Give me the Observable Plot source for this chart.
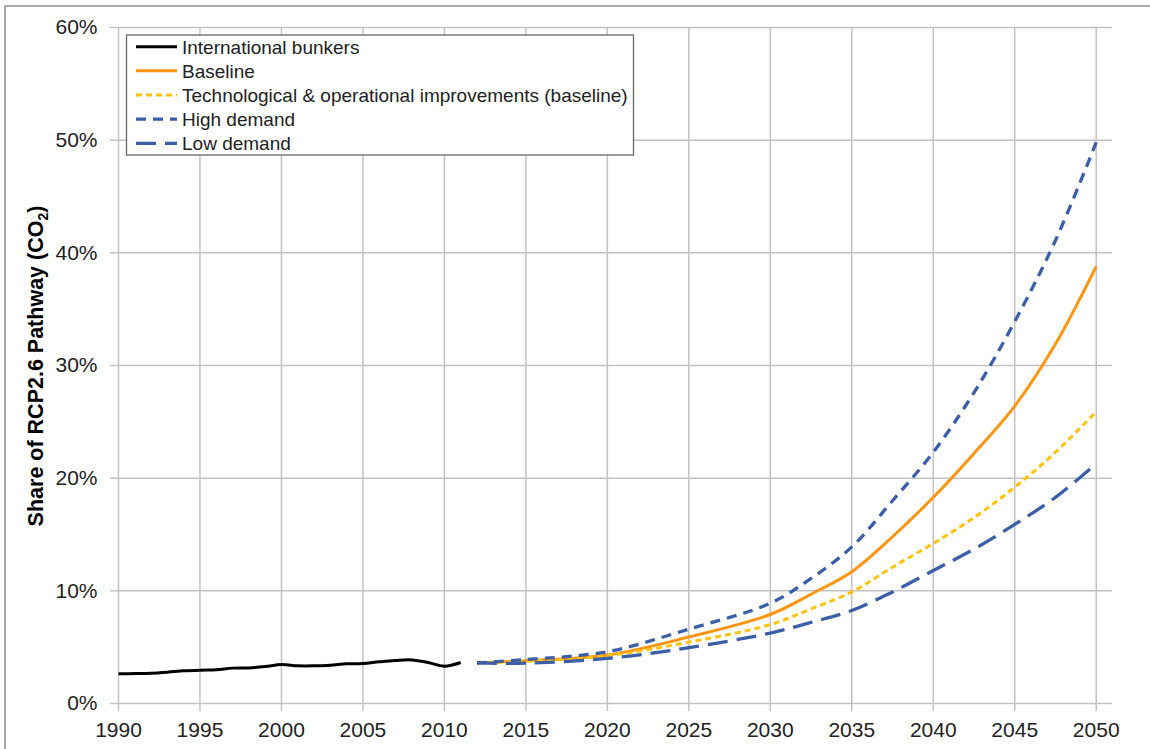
<!DOCTYPE html>
<html><head><meta charset="utf-8">
<script src="https://cdn.jsdelivr.net/npm/d3@7"></script>
<script src="https://cdn.jsdelivr.net/npm/@observablehq/plot@0.6"></script>
<style>
body{margin:0;background:#fff;font-family:"Liberation Sans",Arial,sans-serif;}
#chart{position:relative;width:1150px;height:749px;}
</style>
</head><body><div id="chart"></div>
<script>
// ---- Data ----
const bunkerYears = [1990,1991,1992,1993,1994,1995,1996,1997,1998,1999,2000,2001,2002,2003,2004,2005,2006,2007,2008,2009,2010,2011];
const bunkerShare = [2.63,2.66,2.69,2.78,2.90,2.96,2.99,3.14,3.16,3.28,3.46,3.34,3.34,3.40,3.52,3.55,3.70,3.82,3.87,3.64,3.31,3.64];

const projYears = [2012,2015,2020,2025,2030,2032.5,2035,2037.5,2040,2042.5,2045,2047.5,2050];
const baseline  = [3.6,3.8,4.3,5.9,7.9,9.7,11.7,14.8,18.3,22.2,26.4,31.9,38.8];
const techOps   = [3.6,3.75,4.25,5.45,7.0,8.4,9.9,12.1,14.2,16.5,19.2,22.3,25.9];
const highDem   = [3.6,3.9,4.6,6.6,8.9,11.1,13.9,18.0,22.3,27.6,33.9,41.1,49.8];
const lowDem    = [3.6,3.58,4.0,4.95,6.25,7.2,8.25,9.9,11.8,13.7,15.9,18.3,21.3];

const seriesNames = ["International bunkers","Baseline","Technological & operational improvements (baseline)","High demand","Low demand"];
const xTicks = [1990,1995,2000,2005,2010,2015,2020,2025,2030,2035,2040,2045,2050];
const yTicks = [0,10,20,30,40,50,60];
const yTitle = "Share of RCP2.6 Pathway (CO";

// ---- Styles ----
const styles = {
  "International bunkers": {stroke:"#000000", width:3, dash:null},
  "Baseline": {stroke:"#FF9410", width:3, dash:null},
  "Technological & operational improvements (baseline)": {stroke:"#FFC20E", width:3, dash:"6,4"},
  "High demand": {stroke:"#3B5EA8", width:3.3, dash:"10,7"},
  "Low demand": {stroke:"#3B5EA8", width:3.3, dash:"20,9"}
};

const rows = [];
bunkerYears.forEach((y,i)=>rows.push({series:seriesNames[0], year:y, value:bunkerShare[i]}));
[baseline, techOps, highDem, lowDem].forEach((arr,k)=>{
  projYears.forEach((y,i)=>rows.push({series:seriesNames[k+1], year:y, value:arr[i]}));
});

const gridColor = "#c2c2c2";
const lineMarks = seriesNames.map(name => Plot.line(rows.filter(r=>r.series===name), {
  x:"year", y:"value", stroke: styles[name].stroke, strokeWidth: styles[name].width,
  strokeDasharray: styles[name].dash || undefined, curve:"catmull-rom", strokeLinecap:"butt", strokeLinejoin:"round"
}));

const chart = Plot.plot({
  width:1150, height:749,
  marginLeft:118, marginRight:38, marginTop:27, marginBottom:46,
  style:{fontFamily:'"Liberation Sans",Arial,sans-serif', color:"#222", background:"#fff"},
  x:{domain:[1990,2051], label:null},
  y:{domain:[0,60], label:null},
  marks:[
    Plot.gridX(xTicks, {stroke:gridColor, strokeOpacity:1, strokeWidth:1.5}),
    Plot.gridY(yTicks, {stroke:gridColor, strokeOpacity:1, strokeWidth:1.5}),
    Plot.axisX(xTicks, {tickSize:8, tickPadding:11, stroke:gridColor, strokeWidth:1.5, fontSize:21, tickFormat:d=>String(d), label:null}),
    Plot.axisY(yTicks, {tickSize:8, tickPadding:13, stroke:gridColor, strokeWidth:1.5, fontSize:21, tickFormat:d=>d+"%", label:null}),
    ...lineMarks
  ]
});
document.getElementById("chart").appendChild(chart);

const svg = d3.select(chart);

// figure border (top & left visible)
svg.append("line").attr("x1",5).attr("y1",6).attr("x2",1150).attr("y2",6).attr("stroke","#8a8a8a").attr("stroke-width",1.5);
svg.append("line").attr("x1",5).attr("y1",6).attr("x2",5).attr("y2",749).attr("stroke","#8a8a8a").attr("stroke-width",1.5);

// y axis title with subscript
const yt = svg.append("text")
  .attr("transform","translate(43,366) rotate(-90)")
  .attr("text-anchor","middle")
  .attr("font-weight","bold").attr("font-size",21.5).attr("fill","#000")
  .attr("font-family",'"Liberation Sans",Arial,sans-serif');
yt.append("tspan").text(yTitle);
yt.append("tspan").attr("font-size",14).attr("dy",5).text("2");
yt.append("tspan").attr("dy",-5).text(")");

// legend
const lg = svg.append("g").attr("font-family",'"Liberation Sans",Arial,sans-serif').attr("text-anchor","start");
lg.append("rect").attr("x",126.5).attr("y",35).attr("width",507).attr("height",120)
  .attr("fill","#fff").attr("stroke","#666").attr("stroke-width",1.3);
seriesNames.forEach((name,i)=>{
  const cy = 46.7 + i*24.15;
  const st = styles[name];
  lg.append("line").attr("x1",136).attr("x2",177).attr("y1",cy).attr("y2",cy)
    .attr("stroke",st.stroke).attr("stroke-width",st.width).attr("stroke-dasharray",st.dash||null);
  lg.append("text").attr("x",182).attr("y",cy).attr("dy","0.36em").attr("font-size",19).attr("fill","#222")
    .attr("text-anchor","start").text(name);
});
</script>
</body></html>
